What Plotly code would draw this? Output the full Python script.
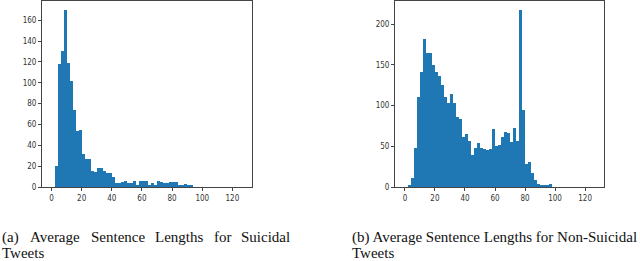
import plotly.graph_objects as go

# ---- data ----
bin_width = 2
suicidal_bin_start = list(range(2, 94, 2))
suicidal_counts = [20, 118, 131, 170, 119, 102, 74, 54, 55, 32,
                   27, 27, 15, 14, 18, 18, 15, 13, 13, 10,
                   4, 4, 5, 6, 4, 4, 6, 1, 6, 6,
                   6, 2, 4, 1, 6, 5, 4, 4, 5, 5,
                   5, 2, 1, 3, 1, 2]

nonsuicidal_bin_start = list(range(2, 98, 2))
nonsuicidal_counts = [2, 11, 48, 111, 141, 182, 165, 165, 150, 141,
                      136, 125, 111, 103, 114, 103, 86, 83, 62, 65,
                      57, 39, 48, 54, 48, 47, 45, 47, 71, 50,
                      52, 62, 67, 66, 55, 73, 57, 217, 94, 28,
                      31, 17, 8, 4, 3, 3, 3, 4]

x_ticks = [0, 20, 40, 60, 80, 100, 120]
suicidal_y_ticks = [0, 20, 40, 60, 80, 100, 120, 140, 160]
nonsuicidal_y_ticks = [0, 50, 100, 150, 200]

caption_a_words = ["(a)", "Average", "Sentence", "Lengths", "for", "Suicidal"]
caption_b_line1 = "(b) Average Sentence Lengths for Non-Suicidal"
caption_line2 = "Tweets"

W, H = 640, 261
BAR_COLOR = "#1f77b4"
AX_COLOR = "#444444"
TICK_FONT = dict(family="Liberation Sans Narrow, DejaVu Sans Condensed, DejaVu Sans",
                 size=8, color="#333333")
CAP_FONT = dict(family="Liberation Serif, Times New Roman, serif", size=15, color="#111111")

fig = go.Figure()
fig.add_trace(go.Bar(x=suicidal_bin_start, y=suicidal_counts, width=bin_width,
                     offset=0, marker=dict(color=BAR_COLOR, line=dict(width=0)),
                     xaxis="x", yaxis="y", showlegend=False))
fig.add_trace(go.Bar(x=nonsuicidal_bin_start, y=nonsuicidal_counts, width=bin_width,
                     offset=0, marker=dict(color=BAR_COLOR, line=dict(width=0)),
                     xaxis="x2", yaxis="y2", showlegend=False))

ydom = [1 - 187 / H, 1 - 1 / H]
common_ax = dict(showline=True, mirror=True, linecolor=AX_COLOR, linewidth=1,
                 ticks="outside", ticklen=3, tickcolor=AX_COLOR, tickwidth=1,
                 showgrid=False, zeroline=False, tickfont=TICK_FONT, automargin=False)

fig.update_layout(
    width=W, height=H,
    margin=dict(l=0, r=0, t=0, b=0),
    paper_bgcolor="white", plot_bgcolor="white",
    bargap=0, barmode="overlay",
    xaxis=dict(domain=[42 / W, 252 / W], range=[-6.3, 133], tickvals=x_ticks,
               anchor="y", **common_ax),
    yaxis=dict(domain=ydom, range=[0, 178.5], tickvals=suicidal_y_ticks,
               anchor="x", **common_ax),
    xaxis2=dict(domain=[395 / W, 604 / W], range=[-6.6, 132.6], tickvals=x_ticks,
                anchor="y2", **common_ax),
    yaxis2=dict(domain=ydom, range=[0, 228.5], tickvals=nonsuicidal_y_ticks,
                anchor="x2", **common_ax),
)

# captions (line 1 of (a) is justified across the column)
word_x = [0, 27.5, 88.5, 153, 211.5, 239]
for wx, word in zip(word_x, caption_a_words):
    fig.add_annotation(x=wx / W, y=1 - 237 / H, xref="paper", yref="paper",
                       text=word, showarrow=False, xanchor="left", yanchor="middle",
                       font=CAP_FONT)
fig.add_annotation(x=0, y=1 - 253 / H, xref="paper", yref="paper", text=caption_line2,
                   showarrow=False, xanchor="left", yanchor="middle", font=CAP_FONT)
fig.add_annotation(x=350 / W, y=1 - 237 / H, xref="paper", yref="paper", text=caption_b_line1,
                   showarrow=False, xanchor="left", yanchor="middle", font=CAP_FONT)
fig.add_annotation(x=350 / W, y=1 - 253 / H, xref="paper", yref="paper", text=caption_line2,
                   showarrow=False, xanchor="left", yanchor="middle", font=CAP_FONT)

fig.write_html("out.html", config={"displayModeBar": False},
               post_script="document.body.style.margin='0';document.body.style.overflow='hidden';")
